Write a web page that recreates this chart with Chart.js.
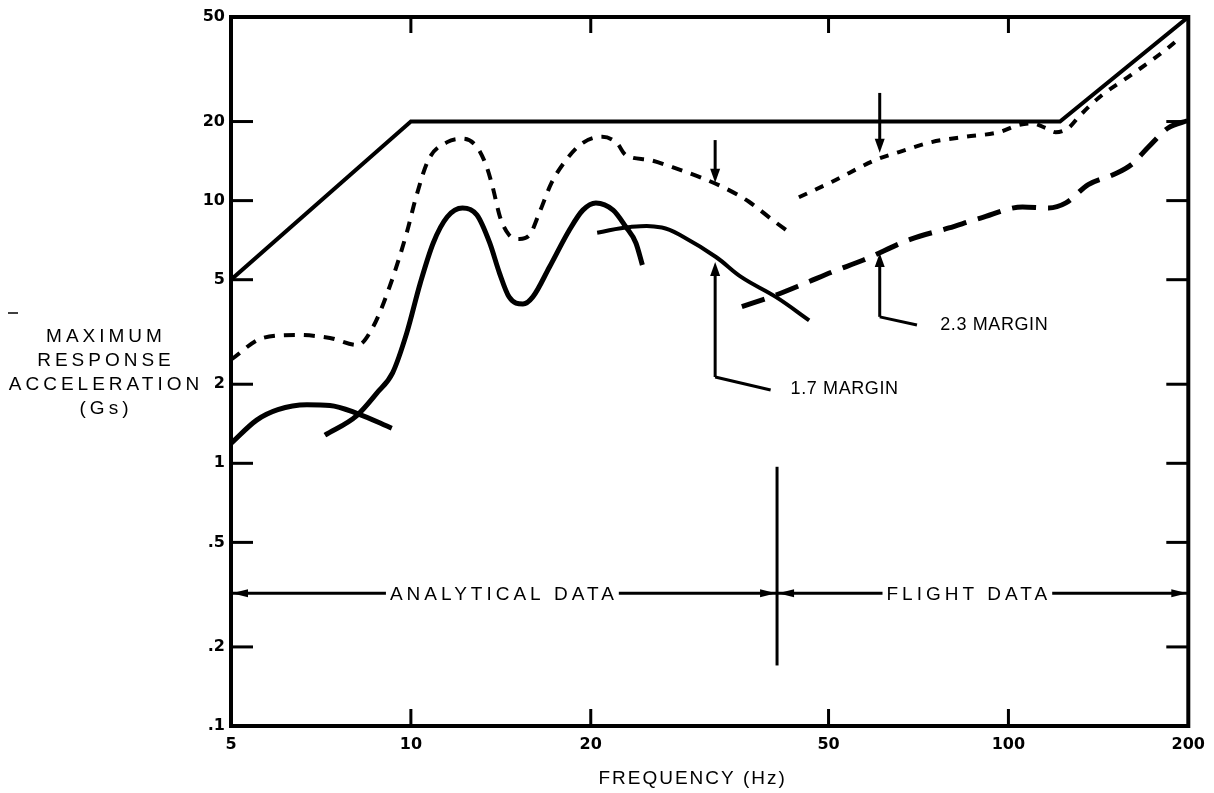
<!DOCTYPE html>
<html><head><meta charset="utf-8">
<script src="https://cdn.jsdelivr.net/npm/chart.js@4.4.0/dist/chart.umd.min.js"></script>
<style>html,body{margin:0;padding:0;background:#fff}#wrap{width:1214px;height:793px}</style>
</head><body><div id="wrap"><canvas id="c" width="1214" height="793"></canvas></div>
<script>
// ---- axis ticks ----
const xTickValues = [5, 10, 20, 50, 100, 200];
const xTickLabels = ['5', '10', '20', '50', '100', '200'];
const yTickValues = [0.1, 0.2, 0.5, 1, 2, 5, 10, 20, 50];
const yTickLabels = ['.1', '.2', '.5', '1', '2', '5', '10', '20', '50'];
const xInnerTicks = [10, 20, 50, 100];
const yInnerTicks = [0.2, 0.5, 1, 2, 5, 10, 20];

// ---- series (frequency Hz, response G) ----
const envFreq = [5, 10, 122, 200];
const envG    = [5, 20, 20, 50];

const anUpFreq = [5, 5.65, 6.45, 7.32, 8.15, 8.64, 9.21, 9.84, 10.2, 10.7, 11.5, 12.2, 12.9, 13.4, 13.7, 14.1, 14.6, 15.2, 15.8, 16.4, 17.2, 18.2, 19.4, 20.9, 22.1, 22.9, 25.0, 27.4, 30.7, 33.7, 36.8, 40.4, 43.4];
const anUpG    = [2.48, 3.0, 3.08, 3.0, 2.82, 3.30, 4.69, 7.53, 10.3, 14.3, 16.7, 17.2, 16.0, 13.4, 11.3, 8.66, 7.40, 7.15, 7.40, 8.97, 11.7, 14.3, 16.6, 17.5, 16.6, 14.9, 14.3, 13.4, 12.2, 11.1, 9.9, 8.4, 7.45];

const anLowAFreq = [5, 5.52, 5.99, 6.70, 7.32, 8.12, 9.29];
const anLowAG    = [1.19, 1.46, 1.60, 1.67, 1.66, 1.55, 1.36];

const anLowBFreq = [7.18, 8.12, 8.77, 9.32, 9.84, 10.37, 10.9, 11.5, 12.2, 12.9, 13.55, 14.07, 14.6, 15.4, 16.0, 17.06, 18.4, 19.4, 20.4, 21.8, 22.9, 23.8, 24.4];
const anLowBG    = [1.28, 1.52, 1.85, 2.21, 3.13, 4.86, 6.90, 8.66, 9.37, 8.81, 6.90, 5.30, 4.30, 4.04, 4.30, 5.59, 7.7, 9.2, 9.8, 9.2, 7.94, 6.90, 5.69];

const flUpFreq = [44.6, 50.7, 60.0, 65.6, 74.4, 84.5, 96.3, 104, 109.6, 115.4, 120, 126, 131, 141.5, 160.5, 183, 194.5];
const flUpG    = [10.3, 11.8, 14.3, 15.3, 16.7, 17.5, 18.2, 19.4, 19.7, 18.9, 18.2, 18.9, 20.8, 24.6, 30.1, 37.4, 42];

const flSolidFreq = [20.5, 23.3, 26.3, 28.5, 32.4, 35.8, 40.8, 46.4];
const flSolidG    = [7.55, 7.94, 7.9, 7.3, 6.1, 5.1, 4.3, 3.5];

const flLowFreq = [35.8, 40.8, 45.8, 50.7, 57.2, 68.5, 79.5, 89.8, 105.6, 116.8, 124.8, 136, 150.3, 160.5, 171.5, 185, 200];
const flLowG    = [3.95, 4.37, 4.86, 5.35, 5.94, 7.12, 7.87, 8.58, 9.46, 9.37, 9.8, 11.5, 12.6, 13.7, 16.0, 18.9, 20.2];

// ---- annotations (data units) ----
const rangeLevel = 0.32;
const rangeSplit = 41;
const rangeLabels = ['ANALYTICAL DATA', 'FLIGHT DATA'];
const rangeLabelFreq = [14.2, 85.2];
const dividerFreq = 41, dividerFrom = 0.17, dividerTo = 0.97;
const margins = [
  {label: '1.7 MARGIN', x: 32.3, downFrom: 17.0, downTo: 11.7, upFrom: 2.13, upTo: 5.84, leader: [40, 1.9], labelAt: [43.2, 1.92]},
  {label: '2.3 MARGIN', x: 60.9, downFrom: 25.7, downTo: 15.2, upFrom: 3.61, upTo: 6.32, leader: [70.3, 3.36], labelAt: [76.9, 3.36]}
];
const yTitleLines = ['MAXIMUM', 'RESPONSE', 'ACCELERATION', '(Gs)'];
const xTitle = 'FREQUENCY (Hz)';
const xTitleFreq = 29.5;

const pts = (xs, ys) => xs.map((x, i) => ({x, y: ys[i]}));
const base = {showLine: true, pointRadius: 0, borderColor: '#000', backgroundColor: '#000', fill: false, cubicInterpolationMode: 'monotone'};
const datasets = [
  {label: 'Envelope', data: pts(envFreq, envG), borderWidth: 4, cubicInterpolationMode: 'default', tension: 0},
  {label: 'Analytical x1.7', data: pts(anUpFreq, anUpG), borderWidth: 4, borderDash: [11, 9]},
  {label: 'Analytical A', data: pts(anLowAFreq, anLowAG), borderWidth: 5},
  {label: 'Analytical B', data: pts(anLowBFreq, anLowBG), borderWidth: 5},
  {label: 'Flight x2.3', data: pts(flUpFreq, flUpG), borderWidth: 4, borderDash: [9, 9]},
  {label: 'Flight', data: pts(flSolidFreq, flSolidG), borderWidth: 4, cubicInterpolationMode: 'default', tension: 0.4},
  {label: 'Flight (low)', data: pts(flLowFreq, flLowG), borderWidth: 5, borderDash: [24, 12]}
].map(d => Object.assign({}, base, d));

const SANS = "'Liberation Sans', Arial, sans-serif";

function drawHead(ctx, px, py, dir, len, hw) {
  ctx.beginPath();
  if (dir === 'down') { ctx.moveTo(px, py); ctx.lineTo(px - hw, py - len); ctx.lineTo(px + hw, py - len); }
  if (dir === 'up')   { ctx.moveTo(px, py); ctx.lineTo(px - hw, py + len); ctx.lineTo(px + hw, py + len); }
  if (dir === 'left') { ctx.moveTo(px, py); ctx.lineTo(px + len, py - hw); ctx.lineTo(px + len, py + hw); }
  if (dir === 'right'){ ctx.moveTo(px, py); ctx.lineTo(px - len, py - hw); ctx.lineTo(px - len, py + hw); }
  ctx.closePath(); ctx.fill();
}
function seg(ctx, x1, y1, x2, y2) { ctx.beginPath(); ctx.moveTo(x1, y1); ctx.lineTo(x2, y2); ctx.stroke(); }
function text(ctx, s, x, y, size, ls, align) {
  ctx.save();
  ctx.font = size + 'px ' + SANS;
  try { ctx.letterSpacing = ls + 'px'; } catch (e) {}
  ctx.textAlign = align || 'center';
  ctx.textBaseline = 'middle';
  ctx.fillStyle = '#000';
  let dx = 0;
  if ((align || 'center') === 'center') dx = ls / 2;
  ctx.fillText(s, x + dx, y);
  const w = ctx.measureText(s).width;
  ctx.restore();
  return w;
}

const deco = {
  id: 'deco',
  afterDatasetsDraw(chart) {
    const {ctx, chartArea: a, scales: {x, y}} = chart;
    const X = v => x.getPixelForValue(v), Y = v => y.getPixelForValue(v);
    ctx.save();
    ctx.strokeStyle = '#000'; ctx.fillStyle = '#000';
    // inner ticks
    ctx.lineWidth = 3;
    xInnerTicks.forEach(v => { const p = X(v); seg(ctx, p, a.bottom, p, a.bottom - 17); seg(ctx, p, a.top, p, a.top + 16); });
    yInnerTicks.forEach(v => { const p = Y(v); seg(ctx, a.left, p, a.left + 22, p); seg(ctx, a.right, p, a.right - 22, p); });
    // frame
    ctx.lineWidth = 4;
    ctx.strokeRect(a.left, a.top, a.right - a.left, a.bottom - a.top);

    // divider
    ctx.lineWidth = 3;
    seg(ctx, X(dividerFreq), Y(dividerTo), X(dividerFreq), Y(dividerFrom));

    // range lines with labels
    const ry = Y(rangeLevel);
    const spans = [[a.left, X(rangeSplit)], [X(rangeSplit), a.right]];
    spans.forEach((sp, i) => {
      const cx = X(rangeLabelFreq[i]);
      ctx.save(); ctx.font = '19px ' + SANS; try { ctx.letterSpacing = '4px'; } catch (e) {}
      const w = ctx.measureText(rangeLabels[i]).width - 4; ctx.restore();
      text(ctx, rangeLabels[i], cx, ry + 1, 19, 4);
      ctx.lineWidth = 3;
      seg(ctx, sp[0], ry, cx - w / 2 - 4, ry);
      seg(ctx, cx + w / 2 + 5, ry, sp[1], ry);
      drawHead(ctx, sp[0] + 1, ry, 'left', 16, 4);
      drawHead(ctx, sp[1] - 1, ry, 'right', 16, 4);
    });

    // margin arrows
    margins.forEach(m => {
      const px = X(m.x);
      ctx.lineWidth = 3;
      seg(ctx, px, Y(m.downFrom), px, Y(m.downTo) - 8);
      drawHead(ctx, px, Y(m.downTo), 'down', 14, 5);
      seg(ctx, px, Y(m.upFrom), px, Y(m.upTo) + 8);
      drawHead(ctx, px, Y(m.upTo), 'up', 14, 5);
      ctx.lineWidth = 3;
      ctx.beginPath(); ctx.moveTo(px, Y(m.upFrom)); ctx.lineTo(X(m.leader[0]), Y(m.leader[1])); ctx.stroke();
      text(ctx, m.label, X(m.labelAt[0]), Y(m.labelAt[1]), 18, 0.6, 'left');
    });

    // axis titles
    yTitleLines.forEach((s, i) => text(ctx, s, 104, 337 + i * 24, 19, 4));
    text(ctx, xTitle, X(xTitleFreq), 779, 19, 2);
    // stray scan mark
    ctx.lineWidth = 1.5; seg(ctx, 8, 313, 18, 313);
    ctx.restore();
  }
};

const tickFont = {family: "'DejaVu Sans', sans-serif", size: 16, weight: 'bold'};
new Chart(document.getElementById('c'), {
  type: 'scatter',
  data: {datasets},
  options: {
    responsive: false, animation: false, devicePixelRatio: 1,
    layout: {padding: {left: 0, right: 24, top: 17, bottom: 0}},
    plugins: {legend: {display: false}, tooltip: {enabled: false}},
    scales: {
      x: {
        type: 'logarithmic', min: 5, max: 200,
        afterBuildTicks: s => { s.ticks = xTickValues.map(v => ({value: v})); },
        afterFit: s => { s.height = 67; },
        grid: {display: false, drawTicks: false}, border: {display: false},
        ticks: {autoSkip: false, maxRotation: 0, padding: 9, color: '#000', font: tickFont,
          callback: v => { const i = xTickValues.indexOf(v); return i >= 0 ? xTickLabels[i] : ''; }}
      },
      y: {
        type: 'logarithmic', min: 0.1, max: 50,
        afterBuildTicks: s => { s.ticks = yTickValues.map(v => ({value: v})); },
        afterFit: s => { s.width = 231; },
        grid: {display: false, drawTicks: false}, border: {display: false},
        ticks: {autoSkip: false, padding: 6, color: '#000', font: tickFont,
          callback: v => { const i = yTickValues.indexOf(v); return i >= 0 ? yTickLabels[i] : ''; }}
      }
    }
  },
  plugins: [deco]
});
</script>
</body></html>
